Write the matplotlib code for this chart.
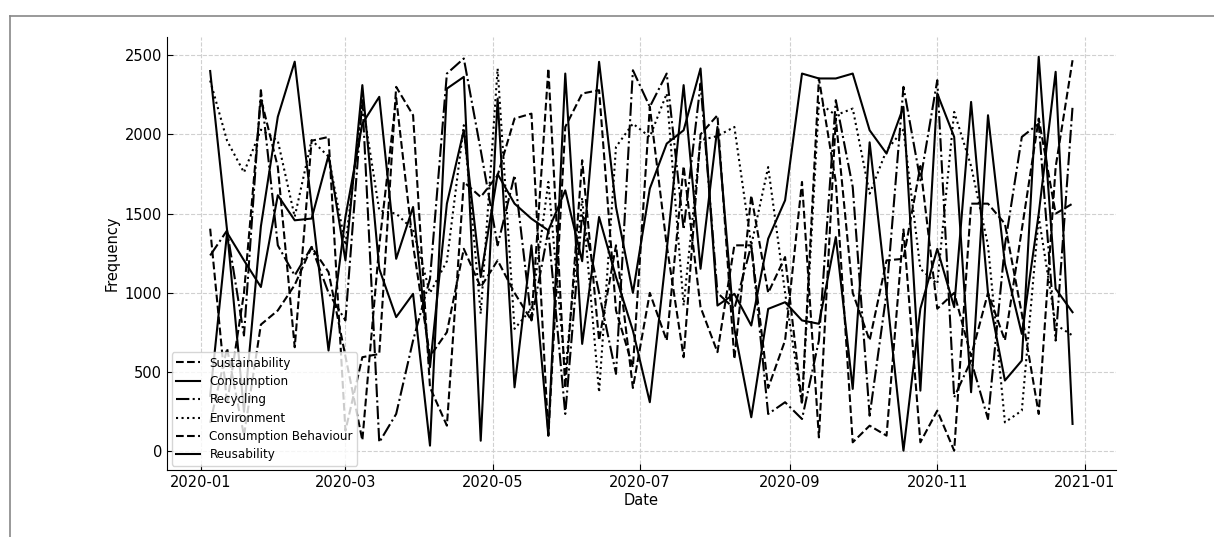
import matplotlib
matplotlib.use("Agg")
import matplotlib.pyplot as plt
import matplotlib.dates as mdates
from matplotlib.lines import Line2D
import pandas as pd

# weekly dates
dates = pd.date_range("2020-01-05", periods=52, freq="W")

sustainability = [1405, 300, 1000, 2226, 1795, 657, 1960, 1984, 131, 594, 615, 2300, 2121,
                  404, 162, 1700, 1605, 1742, 2100, 2131, 100, 2047, 2258, 2279, 889, 531,
                  2174, 1300, 594, 2000, 2121, 583, 1615, 1000, 1226, 300, 2353, 1700, 57,
                  162, 99, 1400, 57, 257, 4, 1563, 1563, 1436, 868, 236, 1794, 2468]
consumption = [2400, 1395, 250, 1420, 2111, 2459, 1550, 636, 1479, 2068, 2237, 1215, 1542,
               531, 1563, 2026, 1100, 1750, 1563, 1468, 1394, 1647, 1200, 2458, 1542, 1000,
               1658, 1942, 2026, 2416, 920, 994, 794, 1342, 1584, 2384, 2353, 2353, 2384,
               2026, 1879, 2174, 383, 2258, 1984, 373, 2121, 1184, 741, 1500, 2395, 173]
recycling = [1236, 1394, 731, 2279, 1300, 1110, 1290, 1000, 826, 2216, 57, 236, 700, 1089,
             2384, 2479, 1900, 1300, 1742, 826, 1394, 236, 1500, 1000, 489, 2405, 2174,
             2384, 1400, 2321, 1000, 900, 1300, 236, 310, 204, 700, 2216, 1668, 225, 1000,
             2300, 1710, 2342, 341, 573, 204, 1300, 1984, 2068, 699, 2174]
environment = [2340, 1960, 1760, 2030, 1960, 1480, 1964, 1860, 1300, 2200, 1520, 1500, 1400,
               1000, 1200, 2058, 868, 2416, 773, 900, 1700, 500, 1600, 373, 1921, 2068, 1984,
               2258, 920, 1963, 1990, 2047, 1300, 1794, 1000, 300, 2200, 2121, 2163, 1626,
               1900, 2030, 1152, 1057, 2142, 1800, 1300, 183, 257, 1479, 800, 731]
consumption_behaviour = [180, 650, 100, 800, 889, 1050, 1289, 1131, 600, 70, 1300, 2230, 1300,
                         600, 752, 1278, 1036, 1205, 1000, 826, 2416, 400, 1837, 700, 1300,
                         400, 1000, 699, 1800, 910, 626, 1300, 1300, 400, 700, 1700, 88, 2100,
                         1000, 700, 1205, 1215, 1800, 900, 1000, 600, 1000, 700, 1400, 2100,
                         1500, 1563]
reusability = [350, 1380, 1205, 1037, 1616, 1458, 1469, 1868, 1205, 2311, 1152, 847, 994, 36,
               2289, 2363, 67, 2226, 404, 1300, 99, 2384, 678, 1479, 1100, 762, 310, 1268,
               2311, 1152, 2047, 773, 215, 899, 941, 826, 805, 1352, 394, 1950, 1000, 4, 900,
               1278, 910, 2205, 1000, 447, 573, 2490, 1026, 878]

series = [("Sustainability", sustainability, "--"),
          ("Consumption", consumption, "-"),
          ("Recycling", recycling, "-."),
          ("Environment", environment, ":"),
          ("Consumption Behaviour", consumption_behaviour, "--"),
          ("Reusability", reusability, "-")]

fig = plt.figure(figsize=(12.14, 5.37), dpi=100)
ax = fig.add_axes([0.1376, 0.124, 0.7814, 0.807])

for name, vals, ls in series:
    ax.plot(dates, vals, linestyle=ls, color="black", linewidth=1.5, label=name)

ax.xaxis.set_major_locator(mdates.MonthLocator(bymonth=[1, 3, 5, 7, 9, 11]))
ax.xaxis.set_major_formatter(mdates.DateFormatter("%Y-%m"))
ax.set_yticks([0, 500, 1000, 1500, 2000, 2500])
ax.grid(True, linestyle="--", color="#d0d0d0", linewidth=0.8)
ax.tick_params(direction="in", labelsize=10.5, length=4)
for s in ["top", "right"]:
    ax.spines[s].set_visible(False)
ax.set_xlabel("Date", fontsize=10.5, labelpad=2)
ax.set_ylabel("Frequency", fontsize=10.5)
ax.legend(loc="lower left", fontsize=8.6, handlelength=2.0, labelspacing=0.45,
          borderpad=0.35, borderaxespad=0.4, framealpha=0.8, fancybox=True)

# page frame around the figure (screenshot of a document)
fig.add_artist(Line2D([0.008, 0.008], [0.0, 0.97], color="#888888", linewidth=1.2))
fig.add_artist(Line2D([0.008, 1.0], [0.97, 0.97], color="#888888", linewidth=1.2))

fig.savefig("out.png", dpi=100)
